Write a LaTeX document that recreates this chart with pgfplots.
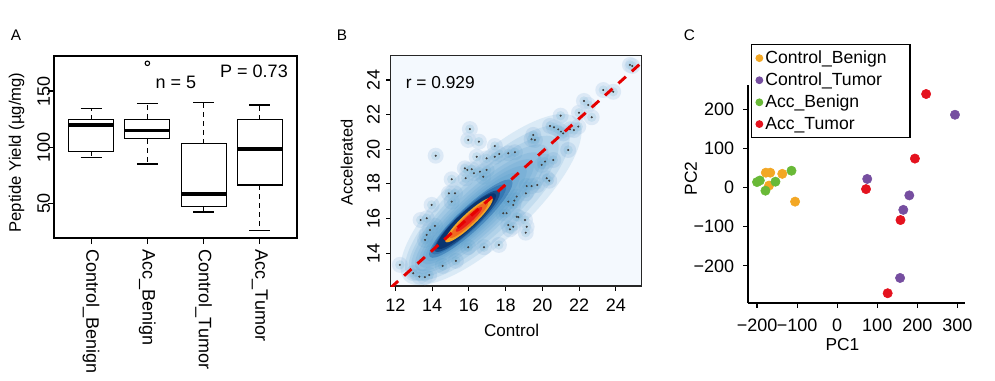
\documentclass[border=0pt]{standalone}
\usepackage{pgfplots}
\pgfplotsset{compat=1.18}
\usepackage{pgfplotstable}
\usepackage{fontspec}
\setmainfont{Liberation Sans}
\newcommand{\fs}[1]{\fontsize{#1}{#1}\selectfont}

\definecolor{cOr}{RGB}{243,167,36}
\definecolor{cPu}{RGB}{118,78,160}
\definecolor{cGr}{RGB}{105,185,55}
\definecolor{cRd}{RGB}{228,18,30}
\definecolor{bgB}{RGB}{244,249,254}
\definecolor{d1}{RGB}{198,219,239}
\definecolor{d2}{RGB}{158,202,225}
\definecolor{d4}{RGB}{66,146,198}
\definecolor{d6}{RGB}{8,81,156}
\definecolor{d7}{RGB}{8,48,107}
\definecolor{o1}{RGB}{240,165,40}
\definecolor{o2}{RGB}{242,105,30}
\definecolor{o3}{RGB}{232,30,28}

\pgfplotstableread{
x y
24.76 24.87
24.89 24.81
23.31 23.42
23.85 23.32
22.26 22.79
22.49 22.56
22.68 21.85
21.99 22.11
20.99 21.94
21.95 21.31
20.41 21.35
20.63 21.27
20.86 21.15
21.01 21.02
21.13 20.92
21.50 21.15
21.71 21.11
21.40 19.96
19.50 20.83
19.41 20.58
19.59 20.54
20.14 19.29
20.59 19.38
19.96 19.10
16.05 21.17
15.96 20.54
16.54 20.44
14.19 19.63
17.41 20.19
16.42 19.57
16.96 19.48
17.41 19.57
17.65 19.73
18.14 19.77
18.50 19.83
15.78 18.90
16.15 18.85
15.91 18.81
16.27 18.62
16.60 18.71
16.96 18.81
15.82 18.33
16.78 18.42
15.06 18.27
14.91 17.46
15.24 17.46
15.06 16.98
13.97 16.79
13.37 15.92
13.70 16.02
13.88 15.34
13.70 15.06
13.61 14.77
14.15 15.58
15.96 14.35
16.82 14.35
17.63 14.48
15.29 13.56
14.57 13.27
12.97 12.85
12.24 13.33
13.30 12.65
13.60 12.62
13.84 12.75
18.14 16.98
18.41 16.79
18.05 16.31
18.14 15.63
18.41 15.53
18.23 15.38
18.60 16.11
20.23 18.33
20.37 18.19
19.72 17.94
19.41 17.88
19.14 17.88
19.10 17.46
18.60 17.27
18.47 17.04
17.87 16.31
18.69 16.08
19.05 15.92
19.14 15.53
19.09 15.19
}\ptsB

% elongated density layer: centre x, centre y, half-length (px), half-width (px), colour, opacity
\newcommand{\blob}[6]{%
\addplot[only marks, mark=*, mark size=0.75pt, color=#5,
  mark options={draw=none, draw opacity=0, fill=#5, fill opacity=#6, rotate=43, xscale=#3, yscale=#4}]
  coordinates {(#1,#2)};}

\begin{document}
\begin{tikzpicture}
\path[use as bounding box] (0,0) rectangle (746.25pt,285pt);
\fill[white] (0,0) rectangle (746.25pt,285pt);

% ---------------- Panel A ----------------
\begin{axis}[
  at={(40.5pt,106.5pt)}, anchor=south west, scale only axis,
  width=182.25pt, height=136.5pt,
  xmin=0.34, xmax=4.66, ymin=19, ymax=181.2,
  xtick={1,2,3,4},
  xticklabels={Control\_Benign,Acc\_Benign,Control\_Tumor,Acc\_Tumor},
  ytick={50,100,150}, yticklabels={50,100,150},
  tick align=outside, xtick pos=bottom, ytick pos=left,
  major tick length=4.5pt,
  every tick/.style={black, line width=0.8pt},
  axis line style={line width=1pt},
  xticklabel style={rotate=-90, anchor=west, inner sep=0pt, font=\fs{13.5}},
  yticklabel style={rotate=90, anchor=south, inner sep=0pt, font=\fs{13.5}},
  xticklabel shift=4.25pt, yticklabel shift=-1.75pt,
  ylabel={Peptide Yield (µg/mg)},
  ylabel style={at={(axis description cs:-0.154,0.47)}, anchor=center, font=\fs{12.5}},
  unbounded coords=jump,
]
% boxes
\addplot[draw=black, fill=white, line width=0.9pt] coordinates {(0.6,96.4) (1.4,96.4) (1.4,124.3) (0.6,124.3)} -- cycle;
\addplot[draw=black, fill=white, line width=0.9pt] coordinates {(1.6,107.4) (2.4,107.4) (2.4,124.9) (1.6,124.9)} -- cycle;
\addplot[draw=black, fill=white, line width=0.9pt] coordinates {(2.6,47.2) (3.4,47.2) (3.4,102.9) (2.6,102.9)} -- cycle;
\addplot[draw=black, fill=white, line width=0.9pt] coordinates {(3.6,66.2) (4.4,66.2) (4.4,124.3) (3.6,124.3)} -- cycle;
% medians
\addplot[black, line width=2.5pt] coordinates {
  (0.6,119.8) (1.4,119.8) (1.4,nan)
  (1.6,115.1) (2.4,115.1) (2.4,nan)
  (2.6,58.2) (3.4,58.2) (3.4,nan)
  (3.6,98.2) (4.4,98.2)};
% dashed whisker stems
\addplot[black, line width=0.9pt, dash pattern=on 3.75pt off 3pt] coordinates {
  (1,124.3) (1,134.7) (1,nan) (1,96.4) (1,90.8) (1,nan)
  (2,124.9) (2,139.1) (2,nan) (2,107.4) (2,84.9) (2,nan)
  (3,102.9) (3,139.7) (3,nan) (3,47.2) (3,42.2) (3,nan)
  (4,124.3) (4,137.6) (4,nan) (4,66.2) (4,25.5)};
% whisker caps
\addplot[black, line width=0.9pt] coordinates {
  (0.815,134.7) (1.185,134.7) (1.185,nan) (0.815,90.8) (1.185,90.8) (1.185,nan)
  (1.815,139.1) (2.185,139.1) (2.185,nan) (1.815,84.9) (2.185,84.9) (2.185,nan)
  (2.815,139.7) (3.185,139.7) (3.185,nan) (2.815,42.2) (3.185,42.2) (3.185,nan)
  (3.815,137.6) (4.185,137.6) (4.185,nan) (3.815,25.5) (4.185,25.5)};
% outlier
\addplot[only marks, mark=o, mark size=1.7pt, mark options={black, line width=0.8pt}]
  coordinates {(2,174.7)};
\end{axis}

% ---------------- Panel B ----------------
\begin{axis}[
  at={(293pt,70.5pt)}, anchor=south west, scale only axis,
  width=188.25pt, height=172.7pt,
  xmin=11.74, xmax=25.40, ymin=12.11, ymax=25.40,
  xtick={12,14,16,18,20,22,24}, xticklabels={12,14,16,18,20,22,24},
  ytick={14,16,18,20,22,24}, yticklabels={14,16,18,20,22,24},
  tick align=outside, xtick pos=bottom, ytick pos=left,
  major tick length=3.5pt,
  every tick/.style={black, line width=0.8pt},
  axis line style={line width=1pt, black!85},
  axis background/.style={fill=bgB},
  clip marker paths=true,
  xticklabel style={anchor=north, inner sep=0pt, font=\fs{13.5}},
  yticklabel style={rotate=90, anchor=south, inner sep=0pt, font=\fs{13.5}},
  xticklabel shift=6pt, yticklabel shift=4.5pt,
  xlabel={Control}, ylabel={Accelerated},
  xlabel style={at={(axis description cs:0.482,-0.193)}, anchor=center, font=\fs{12.8}},
  ylabel style={at={(axis description cs:-0.175,0.536)}, anchor=center, font=\fs{12.3}},
]
% halos around the outlying points
\addplot[only marks, mark=*, mark size=6pt, color=d1,
  mark options={draw=none, draw opacity=0, fill=d1, fill opacity=0.5}]
  table[x=x, y=y] {\ptsB};
\addplot[only marks, mark=*, mark size=3.5pt, color=d2,
  mark options={draw=none, draw opacity=0, fill=d2, fill opacity=0.35}]
  table[x=x, y=y] {\ptsB};
% smoothed density of the dense band
\blob{17.2}{17.1}{118}{40}{d4}{0.14}
\blob{17.0}{16.9}{108}{34}{d4}{0.14}
\blob{16.8}{16.7}{99}{29}{d4}{0.14}
\blob{16.6}{16.55}{91}{25}{d4}{0.14}
\blob{16.5}{16.4}{84}{21.5}{d4}{0.15}
\blob{16.4}{16.3}{77}{18.5}{d4}{0.15}
\blob{16.3}{16.2}{70}{16}{d4}{0.16}
\blob{16.2}{16.1}{63}{14}{d4}{0.16}
\blob{16.1}{16.0}{56}{12}{d6}{0.35}
\blob{16.0}{15.95}{50}{10.5}{d6}{0.35}
\blob{15.9}{15.85}{44}{9.5}{d7}{0.6}
\blob{15.85}{15.85}{40}{8.5}{d7}{0.8}
\blob{16.0}{15.92}{32}{6.5}{o1}{1}
\blob{16.0}{15.92}{26}{4.8}{o2}{1}
\blob{16.0}{15.95}{18}{3.2}{o3}{1}
% outlying points
\addplot[only marks, mark=*, mark size=0.55pt, color=black!75,
  mark options={draw=none, fill=black!75}]
  table[x=x, y=y] {\ptsB};
% fitted line
\addplot[color=red!90!black, line width=2.2pt, dash pattern=on 7.5pt off 6pt]
  coordinates {(11.74,12.01) (25.4,25.01)};
\end{axis}

% ---------------- Panel C ----------------
\begin{axis}[
  at={(561pt,57.75pt)}, anchor=south west, scale only axis,
  width=162.75pt, height=163.5pt,
  xmin=-222.5, xmax=319, ymin=-295, ymax=262,
  axis x line*=bottom, axis y line*=left,
  axis line style={-, line width=1pt},
  tick align=outside, major tick length=3.5pt,
  every tick/.style={black, line width=0.8pt},
  xtick={-200,-100,0,100,200,300}, xticklabels={−200,−100,0,100,200,300},
  ytick={-200,-100,0,100,200}, yticklabels={−200,−100,0,100,200},
  xticklabel style={anchor=north, inner sep=0pt, font=\fs{13.5}},
  yticklabel style={anchor=east, inner sep=0pt, font=\fs{13.5}},
  xticklabel shift=8.5pt, yticklabel shift=6.75pt,
  xlabel={PC1}, ylabel={PC2},
  xlabel style={at={(axis description cs:0.4355,-0.19)}, anchor=center, font=\fs{13}},
  ylabel style={at={(axis description cs:-0.263,0.571)}, anchor=center, font=\fs{13}},
  clip=false,
  legend style={at={(0.013,1.187)}, anchor=north west, draw=black, line width=0.8pt,
    font=\fs{13.2}, inner xsep=3.5pt, inner ysep=2.5pt, row sep=1.5pt},
  legend cell align=left,
  legend image code/.code={\draw[#1, mark size=2.5pt] plot coordinates {(0pt,0pt) (5.5pt,0pt) (11pt,0pt)};},
  legend image post style={mark repeat=2, mark phase=2},
]
\addplot[only marks, mark=*, mark size=3.5pt, color=cOr, mark options={draw=none, fill=cOr}]
  coordinates {(-178,38) (-167,38) (-170,5) (-137,35) (-105,-36)};
\addlegendentry{Control\_Benign\hspace*{12pt}}
\addplot[only marks, mark=*, mark size=3.5pt, color=cPu, mark options={draw=none, fill=cPu}]
  coordinates {(75,22) (294,186) (180,-20) (165,-57) (157,-231)};
\addlegendentry{Control\_Tumor}
\addplot[only marks, mark=*, mark size=3.5pt, color=cGr, mark options={draw=none, fill=cGr}]
  coordinates {(-200,14) (-193,18) (-179,-8) (-154,15) (-114,43)};
\addlegendentry{Acc\_Benign}
\addplot[only marks, mark=*, mark size=3.5pt, color=cRd, mark options={draw=none, fill=cRd}]
  coordinates {(222,239) (194,74) (72,-4) (158,-83) (126,-270)};
\addlegendentry{Acc\_Tumor}
\end{axis}

% ---------------- annotations ----------------
\node[font=\fs{11.5}, anchor=center, inner sep=0pt] at (12pt,258.4pt) {A};
\node[font=\fs{11.5}, anchor=center, inner sep=0pt] at (256.5pt,258.4pt) {B};
\node[font=\fs{11.5}, anchor=center, inner sep=0pt] at (517.1pt,258.4pt) {C};
\node[font=\fs{13.5}, anchor=center, inner sep=0pt] at (132pt,223.1pt) {n = 5};
\node[font=\fs{13.5}, anchor=center, inner sep=0pt] at (190.5pt,231.75pt) {P = 0.73};
\node[font=\fs{13}, anchor=center, inner sep=0pt] at (330.2pt,223.1pt) {r = 0.929};
\end{tikzpicture}
\end{document}
